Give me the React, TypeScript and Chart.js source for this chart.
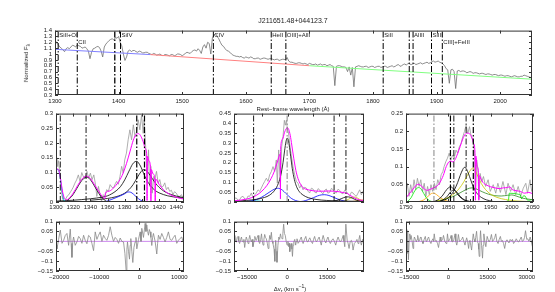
import React, { useEffect, useRef } from "react";
import { Chart, registerables } from "chart.js";

Chart.register(...registerables);

const FONT = "'Liberation Sans', Arial, Helvetica, sans-serif";

// ---------------- TOP PANEL DATA ----------------
const topWaveStart = 1300;
const topWaveStep = 5;
// flux at 1300, 1305, ... 2050
const topFlux = [
  1.24, 1.16, 1.10, 1.04, 1.11, 1.12, 1.14, 1.16, 1.13, 1.11,
  1.09, 0.92, 1.09, 1.12, 1.11, 0.95, 1.17, 1.23, 1.26, 1.28,
  1.30, 1.14, 0.89, 1.05, 1.04, 1.06, 1.03, 1.04, 1.02, 1.03,
  1.00, 1.01, 0.98, 1.00, 0.97, 0.99, 0.97, 0.99, 0.98, 1.00,
  0.97, 1.01, 1.02, 1.04, 1.07, 1.09, 1.01, 1.16, 1.20, 1.00,
  1.32, 1.30, 1.20, 1.13, 1.06, 1.03, 0.98, 0.96, 0.95, 0.94,
  0.95, 0.93, 0.94, 0.92, 0.93, 0.92, 0.93, 0.91, 0.92, 0.90,
  0.91, 0.90, 0.91, 0.94, 0.86, 0.85, 0.84, 0.85, 0.83, 0.83,
  0.84, 0.82, 0.83, 0.82, 0.81, 0.82, 0.81, 0.80, 0.46, 0.80,
  0.79, 0.78, 0.70, 0.64, 0.44, 0.79, 0.79, 0.78, 0.79, 0.78,
  0.79, 0.78, 0.79, 0.78, 0.79, 0.78, 0.80, 0.79, 0.82, 0.80,
  0.83, 0.84, 0.82, 0.84, 0.83, 0.85, 0.84, 0.86, 0.85, 0.88,
  0.87, 0.86, 0.83, 0.75, 0.50, 0.74, 0.41, 0.72, 0.71, 0.70,
  0.69, 0.69, 0.68, 0.67, 0.67, 0.66, 0.66, 0.65, 0.65, 0.64,
  0.64, 0.63, 0.63, 0.62, 0.62, 0.62, 0.61, 0.62, 0.63, 0.61,
  0.61,
];
// flux at the half-steps 1302.5, 1307.5, ... 2047.5
const topFluxMid = [
  1.19, 1.12, 1.07, 1.09, 1.09, 1.15, 1.12, 1.14, 1.10, 1.12,
  1.05, 1.03, 1.10, 1.13, 1.05, 1.12, 1.20, 1.25, 1.24, 1.27,
  1.20, 1.00, 0.95, 1.07, 1.06, 1.04, 1.05, 1.02, 1.03, 1.01,
  0.99, 1.00, 0.99, 0.98, 0.99, 0.98, 0.99, 0.97, 1.00, 0.99,
  0.99, 1.03, 1.01, 1.06, 1.05, 1.06, 1.12, 1.10, 1.18, 1.28,
  1.35, 1.26, 1.15, 1.09, 1.05, 1.00, 0.97, 0.96, 0.96, 0.93,
  0.94, 0.95, 0.92, 0.93, 0.91, 0.93, 0.92, 0.92, 0.91, 0.91,
  0.89, 0.91, 0.90, 0.88, 0.86, 0.84, 0.85, 0.84, 0.84, 0.82,
  0.83, 0.82, 0.81, 0.83, 0.82, 0.80, 0.82, 0.79, 0.79, 0.80,
  0.78, 0.77, 0.78, 0.77, 0.78, 0.80, 0.78, 0.79, 0.77, 0.79,
  0.77, 0.79, 0.77, 0.79, 0.77, 0.79, 0.78, 0.81, 0.79, 0.82,
  0.81, 0.83, 0.83, 0.82, 0.84, 0.83, 0.85, 0.84, 0.87, 0.86,
  0.88, 0.85, 0.80, 0.73, 0.73, 0.70, 0.71, 0.70, 0.71, 0.68,
  0.70, 0.67, 0.68, 0.66, 0.67, 0.65, 0.66, 0.64, 0.65, 0.63,
  0.64, 0.62, 0.63, 0.61, 0.63, 0.61, 0.62, 0.64, 0.62, 0.60,
];
const contBlue: [number, number][] = [[1300, 1.08], [1450, 0.99]];
const contRed: [number, number][] = [[1450, 0.99], [1700, 0.80]];
const contGreen: [number, number][] = [[1700, 0.80], [2050, 0.57]];
const topTicksX = [1300, 1400, 1500, 1600, 1700, 1800, 1900, 2000];
const topTicksY = [0.3, 0.4, 0.5, 0.6, 0.7, 0.8, 0.9, 1, 1.1, 1.2, 1.3, 1.4];
const topLineWaves = [1305, 1335, 1394, 1403, 1549, 1640, 1663, 1816, 1857, 1863, 1892, 1909];
const topLabelWaves = [1305, 1335, 1403, 1549, 1640, 1663, 1816, 1863, 1892, 1909];
const topLabelTexts = ["SiII+OI", "CII", "SiIV", "CIV", "HeII", "OIII]+AlII", "SiII", "AlIII", "SiIII", "CIII]+FeIII"];
const topLabelRows = [0, 1, 0, 0, 0, 0, 0, 0, 0, 1];

// ---------------- SiIV PANEL DATA ----------------
const siivTicksX = [1300, 1320, 1340, 1360, 1380, 1400, 1420, 1440];
const siivTicksY = [0, 0.05, 0.1, 0.15, 0.2, 0.25, 0.3];
const siivLines = [1305, 1335, 1394, 1403];
const siivData: [number, number][] = [
  [1300, 0.13], [1301, 0.15], [1302, 0.12], [1303, 0.14], [1304, 0.11], [1305, 0.087], [1306, 0.05], [1307, 0.02],
  [1308, 0.01], [1309, 0.002], [1311, 0.008], [1313, 0.02], [1315, 0.025], [1317, 0.035], [1318.5, 0.042], [1320, 0.05],
  [1322, 0.064], [1324, 0.075], [1326, 0.092], [1328, 0.07], [1330, 0.1], [1332, 0.085], [1334, 0.081], [1336, 0.104],
  [1338, 0.081], [1340, 0.098], [1342, 0.076], [1344, 0.092], [1346, 0.059], [1347.5, 0.019], [1349.4, 0.053], [1351, 0.03],
  [1353, 0.002], [1355, 0.025], [1357, 0.019], [1359, 0.042], [1361, 0.036], [1363, 0.059], [1365, 0.05], [1367, 0.047],
  [1369, 0.062], [1370.6, 0.07], [1372.5, 0.06], [1374.5, 0.087], [1376.4, 0.121], [1378.3, 0.098], [1380, 0.143], [1382, 0.166],
  [1384, 0.211], [1386, 0.245], [1388, 0.211], [1390, 0.262], [1392, 0.221], [1393.8, 0.239], [1395.7, 0.279], [1397.6, 0.245],
  [1399.6, 0.295], [1401.5, 0.233], [1402.6, 0.279], [1404.6, 0.177], [1406, 0.064], [1407.7, 0.177], [1409, 0.053], [1410.4, 0.121],
  [1412, 0.03], [1413.8, 0.087], [1415, 0.076], [1417, 0.104], [1418.9, 0.064], [1420.8, 0.076], [1422.7, 0.05], [1424.7, 0.053],
  [1426.6, 0.065], [1428.5, 0.042], [1430.5, 0.05], [1432.4, 0.036], [1434.3, 0.04], [1436.2, 0.025], [1438, 0.035], [1440, 0.03],
  [1442, 0.02], [1444, 0.019], [1446, 0.025], [1447.8, 0.014], [1449, 0.012],
];
const siivTotal: [number, number][] = [
  [1300, 0.11], [1302, 0.112], [1304, 0.1], [1306, 0.065], [1308, 0.03], [1310, 0.012], [1313, 0.008], [1316, 0.015],
  [1320, 0.03], [1325, 0.055], [1330, 0.077], [1335, 0.088], [1340, 0.08], [1345, 0.058], [1350, 0.035], [1354, 0.018],
  [1357, 0.012], [1357.5, 0.03], [1362, 0.037], [1367, 0.048], [1372, 0.065], [1377, 0.09], [1382, 0.13], [1386, 0.17],
  [1390, 0.21], [1393, 0.228], [1396, 0.232], [1399, 0.222], [1402, 0.2], [1404, 0.18], [1405.5, 0.165], [1406, 0.005],
  [1406.5, 0.155], [1408, 0.14], [1410, 0.12], [1410.5, 0.003], [1411, 0.11], [1413, 0.095], [1415, 0.082], [1415.5, 0.002],
  [1416, 0.078], [1420, 0.06], [1425, 0.042], [1430, 0.03], [1435, 0.022], [1440, 0.016], [1445, 0.012], [1449, 0.01],
];
const siivCyan: [number, number][] = [[1300, 0.105], [1301, 0.11], [1302.5, 0.11], [1304, 0.098], [1305.5, 0.07], [1307, 0.04], [1308.5, 0.015], [1310, 0.003], [1312, 0]];
const siivBlue: [number, number][] = [[1356, 0], [1360, 0.004], [1365, 0.009], [1370, 0.015], [1375, 0.021], [1380, 0.028], [1384, 0.034], [1387, 0.033], [1390, 0.027], [1394, 0.016], [1398, 0.007], [1402, 0.002], [1405, 0]];
const siivCII: [number, number][] = [[1313, 0.005], [1318, 0.018], [1322, 0.035], [1326, 0.055], [1330, 0.073], [1334, 0.083], [1336, 0.084], [1340, 0.076], [1344, 0.058], [1348, 0.038], [1352, 0.02], [1356, 0.008], [1358, 0.004]];
const siivBroad1: [number, number][] = [
  [1300, 0.003], [1320, 0.006], [1340, 0.011], [1355, 0.017], [1360, 0.021], [1365, 0.028], [1370, 0.038], [1375, 0.052],
  [1380, 0.075], [1385, 0.105], [1389, 0.128], [1392, 0.137], [1394, 0.138], [1396, 0.133], [1399, 0.118], [1402, 0.097],
  [1405, 0.078], [1410, 0.055], [1415, 0.04], [1420, 0.031], [1430, 0.021], [1440, 0.016], [1449, 0.013],
];
const siivBroad2: [number, number][] = [
  [1340, 0.006], [1360, 0.012], [1370, 0.018], [1380, 0.03], [1385, 0.042], [1390, 0.06], [1395, 0.085], [1399, 0.103],
  [1402, 0.11], [1405, 0.107], [1408, 0.097], [1412, 0.08], [1416, 0.063], [1420, 0.05], [1425, 0.038], [1430, 0.03],
  [1440, 0.02], [1449, 0.015],
];

// ---------------- CIV PANEL DATA ----------------
const civTicksX = [1500, 1550, 1600, 1650];
const civTicksY = [0, 0.05, 0.1, 0.15, 0.2, 0.25, 0.3, 0.35, 0.4, 0.45];
const civLines = [1484, 1549, 1640, 1663];
const civData: [number, number][] = [
  [1446, 0.012], [1448, 0.02], [1450.6, 0.02], [1454, 0.008], [1457, 0.012], [1460, 0.025], [1463.5, 0.029], [1467, 0.015],
  [1470, 0.012], [1473, 0.03], [1476.4, 0.029], [1479.7, 0.046], [1482.9, 0.02], [1486, 0.035], [1489.3, 0.046], [1492.6, 0.062],
  [1495.8, 0.054], [1499, 0.071], [1502, 0.088], [1505.5, 0.105], [1508.7, 0.121], [1512, 0.105], [1515, 0.138], [1518.4, 0.155],
  [1521.6, 0.18], [1524.9, 0.155], [1528, 0.214], [1530, 0.096], [1532.6, 0.265], [1535.9, 0.079], [1538.4, 0.281], [1541, 0.332],
  [1543.6, 0.416], [1545.5, 0.391], [1547.5, 0.416], [1549.4, 0.374], [1551.4, 0.357], [1554, 0.298], [1557, 0.239], [1560.4, 0.18],
  [1563.6, 0.138], [1566.9, 0.105], [1570, 0.096], [1573.3, 0.071], [1576.5, 0.088], [1579.8, 0.062], [1583, 0.075], [1586.2, 0.071],
  [1589.5, 0.055], [1592.7, 0.046], [1596, 0.07], [1599.2, 0.066], [1602.4, 0.05], [1605.6, 0.046], [1609, 0.068], [1612, 0.062],
  [1615, 0.05], [1618.5, 0.042], [1622, 0.06], [1625, 0.066], [1628, 0.045], [1631.5, 0.049], [1635, 0.07], [1638, 0.062],
  [1641, 0.05], [1644.4, 0.046], [1647.6, 0.065], [1650.8, 0.059], [1654, 0.045], [1657.3, 0.042], [1660.5, 0.06], [1663.8, 0.054],
  [1667, 0.04], [1670.2, 0.032], [1673.5, 0.05], [1676.7, 0.046], [1680, 0.035], [1683.1, 0.029], [1686.3, 0.045], [1689.6, 0.062],
  [1692.8, 0.037], [1696, 0.054], [1698, 0.029],
];
const civTotal: [number, number][] = [
  [1446, 0.006], [1460, 0.01], [1470, 0.015], [1480, 0.022], [1490, 0.035], [1500, 0.055], [1510, 0.085], [1518, 0.12],
  [1524, 0.155], [1529, 0.195], [1533, 0.23], [1535.7, 0.245], [1536, 0.015], [1536.4, 0.27], [1540, 0.32], [1544, 0.355],
  [1547, 0.372], [1549.5, 0.378], [1552, 0.37], [1555, 0.34], [1558, 0.29], [1562, 0.22], [1566, 0.16], [1570, 0.12],
  [1575, 0.09], [1580, 0.073], [1590, 0.062], [1600, 0.057], [1610, 0.055], [1620, 0.055], [1630, 0.056], [1640, 0.055],
  [1650, 0.052], [1660, 0.047], [1665, 0.045], [1670, 0.035], [1675, 0.028], [1680, 0.02], [1685, 0.014], [1690, 0.01], [1698, 0.008],
];
const civBroad: [number, number][] = [
  [1446, 0.004], [1470, 0.008], [1490, 0.014], [1505, 0.023], [1515, 0.035], [1525, 0.06], [1532, 0.095], [1537, 0.14],
  [1541, 0.2], [1544, 0.26], [1547, 0.31], [1549, 0.325], [1551, 0.318], [1553, 0.29], [1556, 0.23], [1559, 0.17],
  [1563, 0.115], [1567, 0.08], [1572, 0.055], [1580, 0.035], [1590, 0.022], [1605, 0.013], [1625, 0.008], [1650, 0.005], [1698, 0.003],
];
const civOiii: [number, number][] = [[1635, 0.002], [1645, 0.008], [1655, 0.018], [1662, 0.025], [1668, 0.026], [1675, 0.02], [1683, 0.01], [1692, 0.004], [1698, 0.002]];
const civBlue1: [number, number][] = [[1470, 0.002], [1480, 0.006], [1490, 0.013], [1500, 0.025], [1510, 0.042], [1518, 0.056], [1525, 0.066], [1530, 0.07], [1535, 0.068], [1540, 0.06], [1546, 0.045], [1552, 0.03], [1558, 0.017], [1565, 0.008], [1572, 0.003], [1580, 0.001]];
const civBlue2: [number, number][] = [[1570, 0.001], [1580, 0.004], [1590, 0.012], [1600, 0.022], [1608, 0.031], [1615, 0.036], [1622, 0.037], [1630, 0.033], [1638, 0.025], [1646, 0.016], [1655, 0.008], [1663, 0.003], [1672, 0.001]];
const civYellow: [number, number][] = [[1655, 0.001], [1662, 0.006], [1668, 0.014], [1674, 0.022], [1679, 0.025], [1684, 0.022], [1689, 0.014], [1694, 0.007], [1698, 0.004]];
const civCyan: [number, number][] = [[1470, 0.001], [1478, 0.004], [1486, 0.006], [1494, 0.005], [1502, 0.003], [1510, 0.001]];
const civOrange: [number, number][] = [[1670, 0.001], [1680, 0.004], [1688, 0.008], [1694, 0.01], [1698, 0.01]];

// ---------------- CIII] PANEL DATA ----------------
const ciiiTicksX = [1750, 1800, 1850, 1900, 1950, 2000, 2050];
const ciiiTicksY = [0, 0.05, 0.1, 0.15, 0.2, 0.25];
const ciiiLines = [1816, 1855, 1863, 1892, 1909];
const ciiiData: [number, number][] = [
  [1750, 0.025], [1753, 0.053], [1757, 0.016], [1761, 0.049], [1765, 0.025], [1769, 0.063], [1773, 0.035], [1777, 0.067],
  [1781, 0.044], [1785, 0.063], [1789, 0.03], [1793, 0.053], [1797, 0.016], [1801, 0.044], [1805, 0.021], [1809, 0.049],
  [1813, 0.03], [1817, 0.053], [1821, 0.035], [1825, 0.063], [1829, 0.049], [1833, 0.077], [1837, 0.086], [1840, 0.1],
  [1844, 0.114], [1848, 0.124], [1852, 0.138], [1856, 0.119], [1860, 0.133], [1864, 0.124], [1868, 0.147], [1872, 0.138],
  [1876, 0.156], [1880, 0.166], [1884, 0.184], [1888, 0.199], [1892, 0.217], [1896, 0.194], [1900, 0.213], [1904, 0.184],
  [1908, 0.175], [1912, 0.138], [1914, 0.016], [1917, 0.119], [1920, 0.091], [1922, 0.007], [1925, 0.081], [1929, 0.058],
  [1933, 0.072], [1938, 0.044], [1944, 0.063], [1949, 0.03], [1956, 0.049], [1962, 0.025], [1967, 0.053], [1973, 0.027],
  [1979, 0.058], [1986, 0.021], [1991, 0.053], [1997, 0.03], [2003, 0.049], [2009, 0.021], [2015, 0.044], [2021, 0.016],
  [2027, 0.039], [2033, 0.053], [2037, 0.025], [2043, 0.063], [2047, 0.03], [2050, 0.039],
];
const ciiiTotal: [number, number][] = [
  [1750, 0.012], [1757, 0.022], [1765, 0.034], [1772, 0.045], [1779, 0.05], [1785, 0.047], [1792, 0.038], [1800, 0.033],
  [1808, 0.036], [1815, 0.04], [1822, 0.044], [1830, 0.055], [1838, 0.075], [1845, 0.1], [1851, 0.113], [1856, 0.116],
  [1861, 0.113], [1866, 0.12], [1872, 0.137], [1878, 0.157], [1884, 0.178], [1890, 0.192], [1895, 0.195], [1900, 0.193],
  [1905, 0.185], [1910, 0.165], [1913, 0.14], [1914, 0.005], [1915, 0.13], [1918, 0.1], [1921, 0.085], [1922, 0.005],
  [1923, 0.075], [1927, 0.065], [1932, 0.055], [1940, 0.048], [1950, 0.043], [1960, 0.04], [1970, 0.038], [1980, 0.04],
  [1990, 0.041], [1995, 0.043], [2000, 0.036], [2010, 0.032], [2020, 0.03], [2030, 0.025], [2040, 0.027], [2050, 0.023],
];
const ciiiSiiii: [number, number][] = [[1830, 0.002], [1845, 0.008], [1855, 0.018], [1865, 0.036], [1872, 0.055], [1878, 0.075], [1884, 0.092], [1888, 0.098], [1892, 0.095], [1897, 0.082], [1903, 0.062], [1910, 0.04], [1918, 0.024], [1928, 0.013], [1940, 0.006], [1955, 0.002]];
const ciiiAliii1: [number, number][] = [[1815, 0.001], [1825, 0.006], [1835, 0.016], [1843, 0.03], [1850, 0.04], [1855, 0.043], [1860, 0.04], [1867, 0.03], [1875, 0.017], [1885, 0.007], [1895, 0.002]];
const ciiiAliii2: [number, number][] = [[1830, 0.002], [1840, 0.008], [1848, 0.017], [1855, 0.028], [1860, 0.033], [1864, 0.034], [1870, 0.028], [1878, 0.016], [1888, 0.006], [1900, 0.002]];
const ciiiCiii: [number, number][] = [[1820, 0.002], [1840, 0.008], [1860, 0.02], [1875, 0.037], [1887, 0.058], [1897, 0.08], [1904, 0.093], [1908, 0.096], [1913, 0.09], [1920, 0.072], [1928, 0.052], [1938, 0.035], [1950, 0.022], [1965, 0.013], [1985, 0.007], [2010, 0.003], [2050, 0.001]];
const ciiiFeiii: [number, number][] = [[1820, 0.002], [1840, 0.007], [1860, 0.015], [1875, 0.024], [1890, 0.034], [1900, 0.039], [1908, 0.04], [1918, 0.036], [1930, 0.029], [1945, 0.022], [1960, 0.018], [1975, 0.017], [1990, 0.019], [2000, 0.02], [2010, 0.017], [2025, 0.011], [2040, 0.008], [2050, 0.006]];
const ciiiGreenLeft: [number, number][] = [[1755, 0.003], [1762, 0.012], [1769, 0.028], [1775, 0.038], [1780, 0.041], [1786, 0.036], [1792, 0.024], [1798, 0.012], [1805, 0.004], [1812, 0.001]];
const ciiiGreenRight: [number, number][] = [[1988, 0.002], [1992, 0.004], [1994, 0.025], [2005, 0.024], [2015, 0.022], [2020, 0.02], [2023, 0.009], [2028, 0.018], [2032, 0.016], [2036, 0.006], [2042, 0.005], [2050, 0.008]];
const ciiiOrange: [number, number][] = [[1780, 0.001], [1792, 0.006], [1802, 0.016], [1810, 0.024], [1815, 0.025], [1822, 0.021], [1830, 0.013], [1840, 0.006], [1850, 0.002], [1860, 0.001]];

// ---------------- RESIDUALS ----------------
const resTicksY = [-0.15, -0.1, -0.05, 0, 0.05, 0.1];
const resLeftTicksX = [-20000, -10000, 0, 10000];
const resMidTicksX = [-15000, 0, 15000];
const resRightTicksX = [-15000, 0, 15000, 30000];
const resLeft: [number, number][] = [
  [-20800, -0.02], [-20559, -0.038], [-20150, 0.01], [-19728, 0.057], [-19300, -0.01], [-18897, 0.005], [-18480, 0.03], [-18066, 0.04],
  [-17650, -0.02], [-17236, 0.062], [-17030, -0.01], [-16820, -0.081], [-16600, 0.0], [-16405, 0.022], [-16000, -0.02], [-15575, -0.003],
  [-15150, 0.025], [-14744, 0.014], [-14330, -0.01], [-13913, 0.031], [-13500, 0.005], [-13082, -0.012], [-12670, 0.03], [-12252, 0.022],
  [-11840, -0.01], [-11421, -0.047], [-11006, 0.048], [-10590, 0.01], [-10175, 0.031], [-9759, 0.048], [-9340, 0.0], [-8929, 0.031],
  [-8510, 0.015], [-8098, 0.005], [-7680, 0.03], [-7267, 0.074], [-6852, 0.031], [-6440, 0.0], [-6020, 0.02], [-5606, 0.01],
  [-5190, -0.01], [-4775, 0.017], [-4360, 0.0], [-3945, -0.003], [-3600, -0.06], [-3280, -0.15], [-3100, -0.04], [-2948, -0.003],
  [-2700, -0.05], [-2449, -0.09], [-2280, -0.02], [-2117, 0.014], [-1870, -0.05], [-1618, -0.107], [-1330, -0.03], [-1037, -0.003],
  [-830, 0.02], [-622, -0.038], [-200, 0.01], [209, 0.048], [420, 0.0], [624, 0.066], [1040, 0.02], [1455, 0.091],
  [1660, 0.05], [1870, 0.083], [2080, 0.05], [2286, 0.031], [2500, 0.06], [2701, 0.048], [2900, 0.02], [3116, -0.021],
  [3320, 0.02], [3532, 0.04], [3950, 0.0], [4363, -0.064], [4570, -0.01], [4778, 0.031], [5190, 0.01], [5609, 0.04],
  [6020, 0.02], [6439, -0.003], [6850, 0.02], [7270, 0.048], [7690, 0.01], [8101, 0.005], [8520, 0.02], [8932, 0.031],
  [9350, -0.01], [9763, 0.005], [10180, 0.015], [10593, 0.022], [10900, 0.0], [11160, -0.003],
];
const resMid: [number, number][] = [
  [-19900, 0.01], [-19600, 0.03], [-19300, 0.0], [-19000, -0.003], [-18700, 0.02], [-18400, 0.025], [-18100, 0.0], [-17800, -0.011],
  [-17400, 0.01], [-17100, 0.022], [-16800, 0.0], [-16500, -0.003], [-16200, 0.01], [-15900, -0.031], [-15600, 0.0], [-15300, 0.022],
  [-14900, 0.005], [-14600, -0.011], [-14300, 0.01], [-14000, 0.03], [-13700, 0.01], [-13400, -0.003], [-13100, 0.01], [-12800, -0.027],
  [-12400, 0.0], [-12100, 0.025], [-11800, 0.01], [-11500, 0.005], [-11200, 0.02], [-10900, 0.03], [-10600, 0.0], [-10300, -0.011],
  [-9900, 0.01], [-9600, 0.038], [-9300, 0.0], [-9000, -0.019], [-8700, 0.01], [-8400, 0.035], [-8100, 0.02], [-7800, 0.013],
  [-7400, -0.01], [-7100, -0.036], [-6800, 0.0], [-6500, 0.03], [-6200, 0.01], [-5900, 0.046], [-5600, 0.0], [-5300, -0.011],
  [-4900, -0.04], [-4600, -0.101], [-4450, -0.02], [-4300, 0.005], [-4050, -0.05], [-3800, -0.106], [-3450, -0.02], [-3100, 0.022],
  [-2800, 0.01], [-2500, 0.038], [-2200, 0.02], [-1900, 0.013], [-1600, 0.04], [-1300, 0.087], [-1000, 0.04], [-700, 0.03],
  [-350, 0.0], [0, -0.019], [300, 0.0], [600, -0.027], [800, -0.01], [1000, -0.052], [1300, -0.02], [1600, -0.011],
  [1800, -0.04], [2000, -0.076], [2250, -0.02], [2500, -0.003], [2850, 0.01], [3200, -0.019], [3450, 0.0], [3700, 0.013],
  [4100, -0.01], [4500, -0.003], [4900, 0.01], [5300, 0.022], [5650, 0.0], [6000, -0.011], [6500, 0.01], [7000, 0.025],
  [7400, 0.0], [7800, -0.003], [8150, 0.01], [8500, 0.018], [9000, 0.0], [9500, -0.011], [9900, 0.01], [10300, 0.025],
  [10650, 0.005], [11000, -0.003], [11500, 0.01], [12000, 0.022], [12400, 0.0], [12800, -0.019], [13150, 0.01], [13500, 0.03],
  [14000, 0.005], [14500, -0.008], [14900, 0.01], [15300, 0.022], [15750, 0.0], [16200, -0.011], [16700, 0.005], [17200, 0.013],
  [17700, 0.0], [18200, -0.019], [18650, 0.005], [19100, 0.022], [19550, 0.005], [20000, -0.003], [20500, 0.01], [21000, 0.03],
  [21300, 0.0], [21600, -0.027], [22000, 0.087], [22500, 0.005], [22850, -0.01], [23200, -0.036], [23650, 0.0], [24100, 0.005],
  [24400, -0.01], [24700, -0.044], [25200, -0.01], [25700, -0.003], [26150, 0.01], [26600, -0.011], [26900, 0.01], [27200, 0.03],
  [27500, 0.0], [27800, -0.019], [28300, 0.01], [28800, -0.003],
];
const resRight: [number, number][] = [
  [-16250, 0.03], [-16000, 0.062], [-15825, -0.06], [-15600, 0.054], [-15318, -0.093], [-15050, 0.0], [-14811, 0.038], [-14550, 0.01],
  [-14305, 0.03], [-13900, 0.0], [-13544, -0.036], [-13300, 0.0], [-13038, 0.022], [-12650, 0.01], [-12277, -0.003], [-12000, 0.01],
  [-11771, 0.03], [-11400, 0.0], [-11010, 0.005], [-10750, 0.02], [-10504, 0.022], [-10100, 0.0], [-9743, -0.011], [-9300, 0.01],
  [-8857, 0.025], [-8550, 0.0], [-8223, 0.002], [-7900, 0.015], [-7590, 0.022], [-7150, 0.0], [-6703, -0.011], [-6300, 0.005],
  [-5942, 0.013], [-5700, 0.0], [-5436, 0.038], [-5050, 0.0], [-4675, 0.005], [-4200, -0.01], [-3789, -0.031], [-3450, 0.0],
  [-3155, 0.022], [-2850, 0.0], [-2522, 0.005], [-2200, 0.01], [-1888, 0.03], [-1400, 0.0], [-874, -0.011], [-600, 0.0],
  [-368, 0.038], [0, 0.0], [393, 0.008], [700, 0.015], [1026, 0.03], [1350, 0.0], [1660, -0.003], [2100, 0.01],
  [2547, 0.038], [2850, 0.0], [3180, -0.019], [3500, 0.0], [3814, 0.035], [4250, 0.0], [4700, 0.005], [5100, 0.01],
  [5461, 0.022], [5900, 0.0], [6348, -0.019], [6650, 0.0], [6981, 0.018], [7350, 0.0], [7741, -0.036], [8000, 0.0],
  [8248, 0.005], [8550, -0.02], [8882, -0.044], [9200, 0.0], [9515, 0.038], [9850, 0.01], [10149, -0.003], [10450, 0.02],
  [10782, 0.051], [11100, 0.0], [11416, -0.011], [11600, -0.04], [11796, -0.076], [12050, 0.0], [12302, 0.054], [12700, -0.02],
  [13063, -0.085], [13300, -0.02], [13569, 0.038], [13950, 0.0], [14330, -0.027], [14600, 0.0], [14836, 0.025], [15200, 0.01],
  [15597, -0.003], [16050, 0.01], [16484, 0.035], [16900, 0.0], [17370, 0.008], [17750, 0.02], [18131, 0.038], [18550, 0.0],
  [19018, -0.011], [19450, 0.01], [19904, 0.025], [20300, 0.0], [20665, 0.005], [21100, -0.01], [21552, -0.036], [22000, 0.0],
  [22438, 0.008], [22800, 0.0], [23199, -0.008], [23650, 0.01], [24086, 0.002], [24500, 0.01], [24972, -0.011], [25500, 0.0],
  [25986, 0.013], [26500, 0.0], [26999, -0.003], [27450, 0.01], [27887, 0.022], [28300, 0.0], [28773, 0.005], [29150, 0.02],
  [29534, 0.054], [30000, 0.01], [30421, 0.013], [30850, 0.0], [31308, 0.022], [31750, 0.0], [32195, -0.027], [32400, 0.0],
];

// ---------------- STYLE ----------------
const GRAY = "#9a9a9a";
const DARKGRAY = "#6f6f6f";
const MAGENTA = "#ff00ff";
const BLACK = "#000000";
const BLUE = "#0000ff";
const CYAN = "#00c8d8";
const YELLOW = "#c8c800";
const DKGREEN = "#2e8b22";
const GREEN = "#00ee00";
const ORANGE = "#ffa500";
const ZERO = "#cc88ee";
const DASHDOT = [6, 2, 1.5, 2];

const LM = 34, TM = 6, RM = 16, BM = 14;

type Line = { pts: [number, number][]; color: string; width: number; dash?: number[]; smooth?: boolean };
type VLine = { x: number; color: string; width: number };
type Label = { x: number; text: string; row: number };
type PanelProps = {
  rect: [number, number, number, number];
  xr: [number, number];
  yr: [number, number];
  xt: number[];
  yt: number[];
  showX: boolean;
  xPad: number;
  lines: Line[];
  vlines?: VLine[];
  labels?: Label[];
};

const fmt = (v: number) => String(Math.round(v * 1e6) / 1e6).replace("-", "\u2212");

function Panel(p: PanelProps) {
  const ref = useRef<HTMLCanvasElement>(null);
  const [l, t, r, b] = p.rect;
  const w = r - l + LM + RM;
  const h = b - t + TM + BM;
  useEffect(() => {
    const canvas = ref.current;
    if (!canvas) return;
    const vl: Line[] = (p.vlines || []).map((v) => ({
      pts: [[v.x, p.yr[0]], [v.x, p.yr[1]]] as [number, number][],
      color: v.color,
      width: v.width,
      dash: DASHDOT,
    }));
    const all = [...p.lines, ...vl];
    const datasets = all
      .map((s) => ({
        data: s.pts.map(([x, y]) => ({ x, y })),
        borderColor: s.color,
        borderWidth: s.width,
        borderDash: s.dash || [],
        pointRadius: 0,
        fill: false,
        tension: s.smooth ? 0.4 : 0,
        cubicInterpolationMode: s.smooth ? "monotone" : "default",
        clip: 0,
      }))
      .reverse();
    const font = { family: FONT, size: 6 };
    const framePlugin = {
      id: "frame",
      afterDatasetsDraw(chart: any) {
        const { ctx, chartArea } = chart;
        const { left, right, top, bottom } = chartArea;
        const xs = chart.scales.x;
        const ys = chart.scales.y;
        ctx.save();
        ctx.strokeStyle = "#333";
        ctx.lineWidth = 1;
        ctx.setLineDash([]);
        ctx.strokeRect(left + 0.5, top + 0.5, right - left - 1, bottom - top - 1);
        ctx.beginPath();
        xs.ticks.forEach((tk: any) => {
          const px = Math.round(xs.getPixelForValue(tk.value)) + 0.5;
          ctx.moveTo(px, bottom);
          ctx.lineTo(px, bottom - 3);
          ctx.moveTo(px, top);
          ctx.lineTo(px, top + 3);
        });
        ys.ticks.forEach((tk: any) => {
          const py = Math.round(ys.getPixelForValue(tk.value)) + 0.5;
          ctx.moveTo(left, py);
          ctx.lineTo(left + 3, py);
          ctx.moveTo(right, py);
          ctx.lineTo(right - 3, py);
        });
        ctx.stroke();
        if (p.labels) {
          ctx.font = `6px ${FONT}`;
          ctx.fillStyle = "#222";
          ctx.textBaseline = "top";
          p.labels.forEach((lb) => {
            ctx.fillText(lb.text, xs.getPixelForValue(lb.x) + 1, top + 1.5 + lb.row * 7);
          });
        }
        ctx.restore();
      },
    };
    const chart = new Chart(canvas, {
      type: "line",
      data: { datasets } as any,
      options: {
        responsive: false,
        animation: false,
        events: [],
        devicePixelRatio: 1,
        layout: { padding: { left: 0, right: RM, top: TM, bottom: 0 }, autoPadding: false },
        plugins: { legend: { display: false }, tooltip: { enabled: false }, title: { display: false } },
        scales: {
          x: {
            type: "linear",
            min: p.xr[0],
            max: p.xr[1],
            afterBuildTicks: (s: any) => {
              s.ticks = p.xt.map((v) => ({ value: v }));
            },
            afterFit: (s: any) => {
              s.height = BM;
            },
            ticks: {
              display: p.showX,
              font,
              color: "#222",
              padding: p.xPad,
              maxRotation: 0,
              autoSkip: false,
              callback: (v: any) => fmt(Number(v)),
            },
            grid: { display: false, drawTicks: false },
            border: { display: false },
          },
          y: {
            type: "linear",
            min: p.yr[0],
            max: p.yr[1],
            afterBuildTicks: (s: any) => {
              s.ticks = p.yt.map((v) => ({ value: v }));
            },
            afterFit: (s: any) => {
              s.width = LM;
            },
            ticks: {
              font,
              color: "#222",
              padding: 3,
              autoSkip: false,
              callback: (v: any) => fmt(Number(v)),
            },
            grid: { display: false, drawTicks: false },
            border: { display: false },
          },
        },
      } as any,
      plugins: [framePlugin as any],
    });
    return () => chart.destroy();
  }, []);
  return (
    <canvas
      ref={ref}
      width={w}
      height={h}
      style={{ position: "absolute", left: l - LM, top: t - TM, width: w, height: h }}
    />
  );
}

const mk = (pts: [number, number][], color: string, width: number, smooth = true): Line => ({ pts, color, width, smooth });

export default function App() {
  const topSpec: [number, number][] = [];
  topFlux.forEach((f, i) => {
    topSpec.push([topWaveStart + i * topWaveStep, f]);
    if (i < topFluxMid.length) topSpec.push([topWaveStart + (i + 0.5) * topWaveStep, topFluxMid[i]]);
  });
  const topV: VLine[] = topLineWaves.map((x) => ({ x, color: BLACK, width: x === 1394 ? 1.3 : 1 }));
  const topLabels: Label[] = topLabelWaves.map((x, i) => ({ x, text: topLabelTexts[i], row: topLabelRows[i] }));
  const txt = { position: "absolute" as const, fontFamily: FONT, color: "#222", whiteSpace: "nowrap" as const };
  return (
    <div style={{ position: "fixed", left: 0, top: 0, width: 555, height: 292, background: "#fff", overflow: "hidden" }}>
      <Panel
        rect={[55, 30, 532, 95]}
        xr={[1300, 2050]}
        yr={[0.3, 1.4]}
        xt={topTicksX}
        yt={topTicksY}
        showX={true}
        xPad={3}
        lines={[
          mk(topSpec, DARKGRAY, 0.8, false),
          mk(contBlue, "#8080ff", 1, false),
          mk(contRed, "#ff8080", 1, false),
          mk(contGreen, "#80ff80", 1, false),
        ]}
        vlines={topV}
        labels={topLabels}
      />
      <Panel
        rect={[56, 113, 184, 202]}
        xr={[1300, 1449]}
        yr={[0, 0.3]}
        xt={siivTicksX}
        yt={siivTicksY}
        showX={true}
        xPad={2}
        lines={[
          mk(siivData, GRAY, 0.8, false),
          mk(siivCII, BLACK, 0.8),
          mk(siivBroad1, BLACK, 0.8),
          mk(siivBroad2, BLACK, 0.8),
          mk(siivBlue, BLUE, 0.8),
          mk(siivCyan, CYAN, 1),
          mk(siivTotal, MAGENTA, 1),
        ]}
        vlines={siivLines.map((x) => ({ x, color: BLACK, width: x > 1390 ? 1.2 : 0.9 }))}
      />
      <Panel
        rect={[234, 113, 364, 202]}
        xr={[1446, 1698]}
        yr={[0, 0.45]}
        xt={civTicksX}
        yt={civTicksY}
        showX={false}
        xPad={2}
        lines={[
          mk(civData, GRAY, 0.8, false),
          mk(civCyan, CYAN, 0.8),
          mk(civOrange, ORANGE, 0.8),
          mk(civYellow, YELLOW, 0.8),
          mk(civBlue1, BLUE, 0.8),
          mk(civBlue2, BLUE, 0.8),
          mk(civOiii, BLACK, 0.8),
          mk(civBroad, BLACK, 0.8),
          mk(civTotal, MAGENTA, 1),
        ]}
        vlines={civLines.map((x) => ({ x, color: x === 1549 ? "#777" : BLACK, width: 0.9 }))}
      />
      <Panel
        rect={[406, 113, 533, 202]}
        xr={[1750, 2050]}
        yr={[0, 0.25]}
        xt={ciiiTicksX}
        yt={ciiiTicksY}
        showX={true}
        xPad={2}
        lines={[
          mk(ciiiData, GRAY, 0.8, false),
          mk(ciiiOrange, ORANGE, 0.8),
          mk(ciiiGreenLeft, GREEN, 0.8),
          mk(ciiiGreenRight, GREEN, 0.8, false),
          mk(ciiiFeiii, DKGREEN, 0.8),
          mk(ciiiCiii, YELLOW, 0.8),
          mk(ciiiAliii1, BLACK, 0.8),
          mk(ciiiAliii2, BLACK, 0.8),
          mk(ciiiSiiii, BLACK, 0.8),
          mk(ciiiTotal, MAGENTA, 1),
        ]}
        vlines={ciiiLines.map((x) => ({ x, color: x === 1816 ? "#777" : BLACK, width: x === 1855 || x === 1909 ? 1.2 : 0.9 }))}
      />
      <Panel
        rect={[56, 221, 184, 271]}
        xr={[-20800, 11160]}
        yr={[-0.15, 0.1]}
        xt={resLeftTicksX}
        yt={resTicksY}
        showX={true}
        xPad={3}
        lines={[mk([[-20800, 0], [11160, 0]], ZERO, 1, false), mk(resLeft, "#888", 0.8, false)]}
      />
      <Panel
        rect={[234, 221, 364, 271]}
        xr={[-19900, 28800]}
        yr={[-0.15, 0.1]}
        xt={resMidTicksX}
        yt={resTicksY}
        showX={true}
        xPad={3}
        lines={[mk([[-19900, 0], [28800, 0]], ZERO, 1, false), mk(resMid, "#888", 0.8, false)]}
      />
      <Panel
        rect={[406, 221, 533, 271]}
        xr={[-16250, 32400]}
        yr={[-0.15, 0.1]}
        xt={resRightTicksX}
        yt={resTicksY}
        showX={true}
        xPad={3}
        lines={[mk([[-16250, 0], [32400, 0]], ZERO, 1, false), mk(resRight, "#888", 0.8, false)]}
      />
      <div style={{ ...txt, left: 193, width: 200, top: 16, textAlign: "center", fontSize: 7, lineHeight: "9px" }}>
        J211651.48+044123.7
      </div>
      <div
        style={{
          ...txt,
          left: 27,
          top: 63,
          fontSize: 6,
          lineHeight: "8px",
          transform: "translate(-50%, -50%) rotate(-90deg)",
        }}
      >
        Normalized F<sub style={{ fontSize: 5 }}>λ</sub>
      </div>
      <div style={{ ...txt, left: 193, width: 200, top: 105, textAlign: "center", fontSize: 6, lineHeight: "8px" }}>
        Rest−frame wavelength (Å)
      </div>
      <div style={{ ...txt, left: 190, width: 200, top: 282, textAlign: "center", fontSize: 6, lineHeight: "8px" }}>
        Δv<sub style={{ fontSize: 5 }}>r</sub> (km s<sup style={{ fontSize: 5 }}>−1</sup>)
      </div>
    </div>
  );
}
